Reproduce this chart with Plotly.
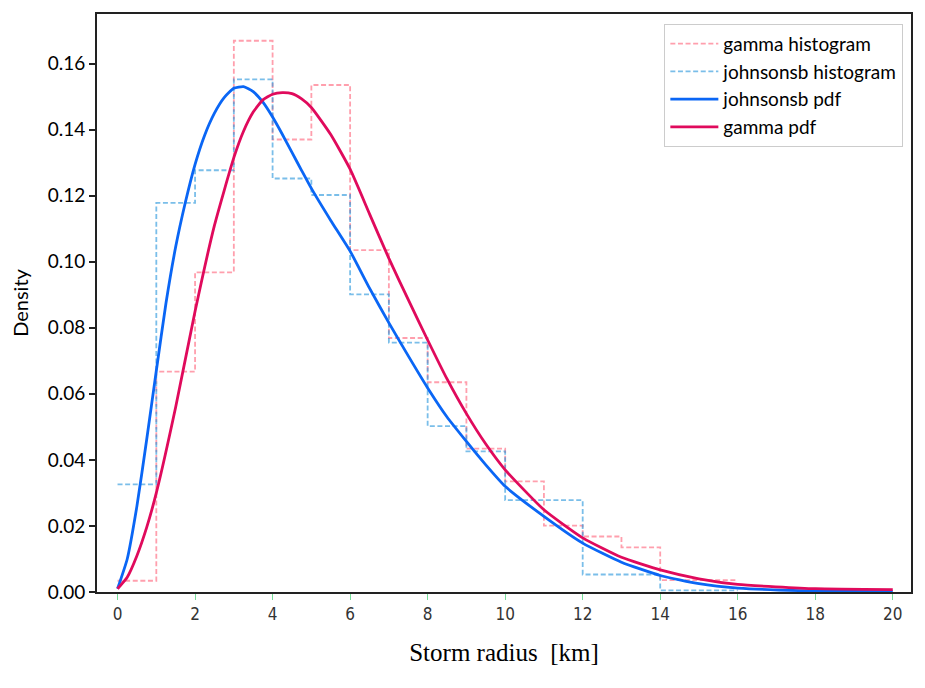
import plotly.graph_objects as go

# ---- data ----
bin_edges = [0, 1, 2, 3, 4, 5, 6, 7, 8, 9, 10, 11, 12, 13, 14, 15, 16]
gamma_hist = [0.0034, 0.0667, 0.0968, 0.1669, 0.1370, 0.1535, 0.1035, 0.0769,
              0.0635, 0.0434, 0.0335, 0.0201, 0.0168, 0.0135, 0.0036, 0.0036]
johnsonsb_hist = [0.0326, 0.1178, 0.1277, 0.1552, 0.1252, 0.1202, 0.0901, 0.0755,
                  0.0502, 0.0426, 0.0278, 0.0278, 0.0053, 0.0053, 0.0005, 0.0005]

johnsonsb_x = [0, 0.25, 0.5, 0.75, 1, 1.25, 1.5, 1.75, 2, 2.25, 2.5, 2.75, 3, 3.25,
               3.5, 3.75, 4, 4.25, 4.5, 4.75, 5, 5.5, 6, 6.5, 7, 7.5, 8, 8.5, 9, 9.5,
               10, 11, 12, 13, 14, 15, 16, 18, 20]
johnsonsb_pdf = [0.001, 0.010, 0.026, 0.046, 0.067, 0.0875, 0.1045, 0.118, 0.1295,
                 0.1384, 0.145, 0.1497, 0.1525, 0.1530, 0.1515, 0.1483, 0.1438, 0.1386,
                 0.1331, 0.1276, 0.1222, 0.1125, 0.1032, 0.092, 0.0815, 0.0715, 0.0618,
                 0.053, 0.0456, 0.0385, 0.032, 0.0229, 0.0148, 0.009, 0.005, 0.0025,
                 0.0012, 0.0003, 0.0001]

gamma_x = [0, 0.25, 0.5, 0.75, 1, 1.5, 2, 2.5, 3, 3.25, 3.5, 3.75, 4, 4.25, 4.5, 4.75,
           5, 5.5, 6, 6.5, 7, 7.5, 8, 8.5, 9, 9.5, 10, 11, 12, 13, 14, 15, 16, 18, 20]
gamma_pdf = [0.001, 0.0045, 0.011, 0.0195, 0.030, 0.056, 0.085, 0.111, 0.1315, 0.1395,
             0.1453, 0.149, 0.1507, 0.1512, 0.1509, 0.1493, 0.1467, 0.1385, 0.128,
             0.1145, 0.101, 0.0885, 0.0763, 0.0645, 0.054, 0.0448, 0.037, 0.0249,
             0.0164, 0.0105, 0.0067, 0.004, 0.0023, 0.001, 0.0007]

x_ticks = [0, 2, 4, 6, 8, 10, 12, 14, 16, 18, 20]
y_ticks = [0.00, 0.02, 0.04, 0.06, 0.08, 0.10, 0.12, 0.14, 0.16]

fig = go.Figure()

fig.add_trace(go.Scatter(
    x=bin_edges, y=gamma_hist + [gamma_hist[-1]], mode="lines", line_shape="hv",
    name="gamma histogram",
    line=dict(color="rgba(255,100,122,0.62)", width=1.8, dash="5px,2.6px")))
fig.add_trace(go.Scatter(
    x=bin_edges, y=johnsonsb_hist + [johnsonsb_hist[-1]], mode="lines", line_shape="hv",
    name="johnsonsb histogram",
    line=dict(color="rgba(40,150,220,0.62)", width=1.8, dash="5px,2.6px")))
fig.add_trace(go.Scatter(
    x=johnsonsb_x, y=johnsonsb_pdf, mode="lines", line_shape="spline",
    name="johnsonsb pdf", line=dict(color="#0a66f5", width=2.8, smoothing=0.5)))
fig.add_trace(go.Scatter(
    x=gamma_x, y=gamma_pdf, mode="lines", line_shape="spline",
    name="gamma pdf", line=dict(color="#e00a5c", width=2.8, smoothing=0.5)))

fig.update_layout(
    width=925, height=688,
    margin=dict(l=97, r=14, t=14, b=96),
    paper_bgcolor="white", plot_bgcolor="white",
    font=dict(family="Lato", size=19, color="black"),
    showlegend=True,
    legend=dict(
        x=0.9906, y=0.983, xanchor="right", yanchor="top",
        bgcolor="rgba(255,255,255,0.85)", bordercolor="#cccccc", borderwidth=1,
        font=dict(family="Lato", size=19, color="black"),
        itemwidth=48,
    ),
    xaxis=dict(
        range=[-0.53, 20.47], tickvals=x_ticks, ticktext=[str(v) for v in x_ticks],
        showgrid=False, zeroline=False,
        showline=True, mirror=True, linecolor="#222222", linewidth=1.6,
        ticks="outside", ticklen=6, tickwidth=1, tickcolor="#77dd99",
        tickfont=dict(family="DejaVu Sans Condensed, Liberation Sans Narrow, sans-serif",
                      size=17, color="#333333"),
        title=dict(text="Storm radius  [km]",
                   font=dict(family="Liberation Serif", size=25, color="black"),
                   standoff=20),
    ),
    yaxis=dict(
        range=[0, 0.175], tickvals=y_ticks, ticktext=["%.2f" % v for v in y_ticks],
        showgrid=False, zeroline=False,
        showline=True, mirror=True, linecolor="#222222", linewidth=1.6,
        ticks="outside", ticklen=6, tickwidth=1.5, tickcolor="#222222",
        tickfont=dict(family="Lato", size=19, color="black"),
        title=dict(text="Density", font=dict(family="Lato", size=20, color="black"),
                   standoff=14),
    ),
)

fig.write_html("out.html")
